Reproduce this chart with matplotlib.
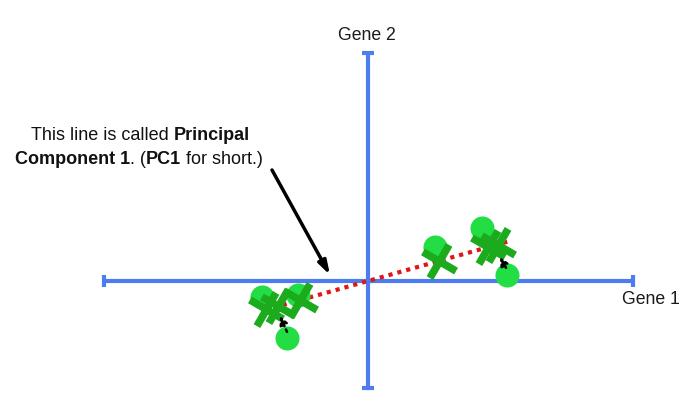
import matplotlib
matplotlib.use("Agg")
import matplotlib.pyplot as plt
from matplotlib.markers import MarkerStyle
from matplotlib.transforms import Affine2D
from matplotlib.offsetbox import TextArea, HPacker, AnnotationBbox

plt.rcParams['font.family'] = ['Liberation Sans', 'DejaVu Sans']

# Data (gene 1, gene 2)
circ_x = [-2.65, -1.75, -2.025, 1.675, 2.85, 3.475]
circ_y = [-0.40, -0.35, -1.425, 0.85, 1.325, 0.15]
proj_x = [-2.55, -2.25, -1.70, 1.775, 3.00, 3.25]
proj_y = [-0.70, -0.625, -0.475, 0.50, 0.85, 0.90]
pc1_x = [-2.575, 3.55]
pc1_y = [-0.725, 1.00]
gene1_range = [-6.6, 6.625]
gene2_range = [-2.675, 5.7]

blue = '#4d7cf0'
fig = plt.figure(figsize=(6.83, 4.09), dpi=100)
ax = fig.add_axes([0, 0, 1, 1])
ax.set_xlim(-9.2, 7.875)
ax.set_ylim(-3.2, 7.025)
ax.axis('off')

# axes with end caps
ax.plot(gene1_range, [0, 0], color=blue, lw=3, solid_capstyle='butt', zorder=1)
ax.plot([0, 0], gene2_range, color=blue, lw=3, solid_capstyle='butt', zorder=1)
cap = 0.15
for xv in gene1_range:
    ax.plot([xv, xv], [-cap, cap], color=blue, lw=3, solid_capstyle='butt', zorder=1)
for yv in gene2_range:
    ax.plot([-cap, cap], [yv, yv], color=blue, lw=3, solid_capstyle='butt', zorder=1)

ax.text(-0.025, 6.15, 'Gene 2', ha='center', va='center', fontsize=12.7, color='#1a1a1a')
ax.text(6.35, -0.475, 'Gene 1', ha='left', va='center', fontsize=12.7, color='#1a1a1a')

# PC1 line
ax.plot(pc1_x, pc1_y, color='#e01515', lw=3, ls=(0, (1, 1.2)), zorder=2)

# circles
ax.scatter(circ_x, circ_y, s=300, color='#22dd44', zorder=3, linewidths=0)

# projections
ms = MarkerStyle('x', transform=Affine2D().rotate_deg(15))
ax.scatter(proj_x, proj_y, s=380, marker=ms, color='#1cab1c', linewidths=5.5, zorder=4)

# dotted arrows from points to projections
for (sx, sy), (ex, ey) in [((-2.025, -1.27), (-2.2, -0.875)), ((3.45, 0.33), (3.3, 0.6))]:
    ax.annotate('', xy=(ex, ey), xytext=(sx, sy),
                arrowprops=dict(arrowstyle='-|>,head_length=0.5,head_width=0.25',
                                color='black', lw=1.8, ls=(0, (1, 1.5)),
                                shrinkA=0, shrinkB=0), zorder=6)

# annotation arrow
ax.annotate('', xy=(-0.95, 0.15), xytext=(-2.4, 2.775),
            arrowprops=dict(arrowstyle='-|>,head_length=0.8,head_width=0.25',
                            color='black', lw=2.5, shrinkA=0, shrinkB=0), zorder=6)

fs = 13
def line(parts, xy):
    boxes = [TextArea(t, textprops=dict(fontsize=fs, fontweight=('bold' if b else 'normal'), color='#111111'))
             for t, b in parts]
    hp = HPacker(children=boxes, pad=0, sep=0, align='baseline')
    ab = AnnotationBbox(hp, xy, xycoords='data', frameon=False, box_alignment=(0.5, 0.5), pad=0)
    ax.add_artist(ab)

line([('This line is called ', False), ('Principal', True)], (-5.7, 3.65))
line([('Component 1', True), ('. (', False), ('PC1', True), (' for short.)', False)], (-5.725, 3.05))

fig.savefig('out.png', dpi=100)
